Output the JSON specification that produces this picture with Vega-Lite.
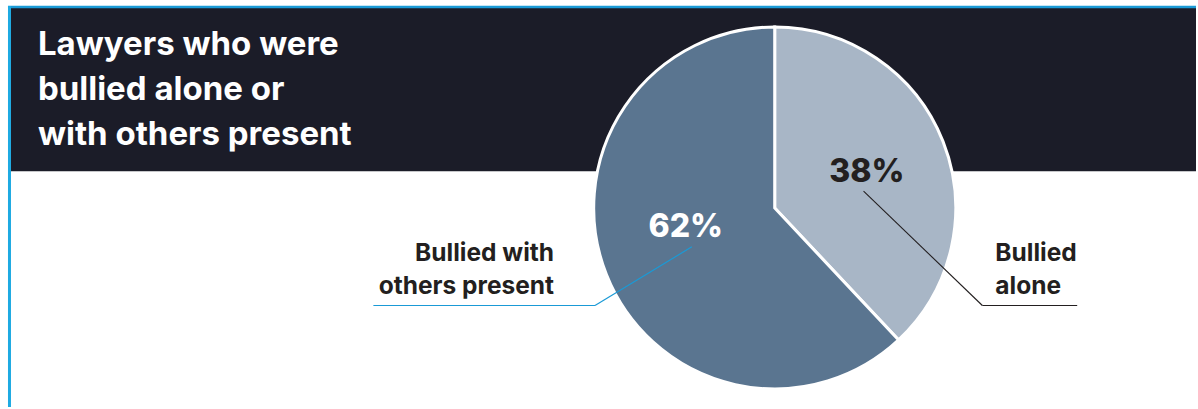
{
  "$schema": "https://vega.github.io/schema/vega-lite/v6.json",
  "width": 1198,
  "height": 409,
  "autosize": {"type": "fit", "contains": "padding"},
  "padding": 0,
  "background": "white",
  "config": {"view": {"stroke": null}},
  "datasets": {
    "pie": [
      {"category": "Bullied alone", "share": 0.38, "label": "Bullied\nalone", "order": 1},
      {"category": "Bullied with others present", "share": 0.62, "label": "Bullied with\nothers present", "order": 2}
    ],
    "blank": [{}]
  },
  "layer": [
    {
      "data": {"name": "blank"},
      "mark": {"type": "rect", "color": "#1b1c28"},
      "encoding": {
        "x": {"datum": -422.65, "type": "quantitative", "scale": {"domain": [-428.73, 233.15], "nice": false, "zero": false}, "axis": null},
        "x2": {"datum": 233.15},
        "y": {"datum": 111.05, "type": "quantitative", "scale": {"domain": [-110.5, 115.47], "nice": false, "zero": false}, "axis": null},
        "y2": {"datum": 20.44}
      }
    },
    {
      "data": {"name": "blank"},
      "mark": {"type": "rule", "color": "#1a9ad6", "strokeWidth": 2.5},
      "encoding": {
        "x": {"datum": -424.31, "type": "quantitative"},
        "x2": {"datum": 233.15},
        "y": {"datum": 111.6, "type": "quantitative"},
        "y2": {"datum": 111.6}
      }
    },
    {
      "data": {"name": "blank"},
      "mark": {"type": "rule", "color": "#1eaae2", "strokeWidth": 3},
      "encoding": {
        "x": {"datum": -423.48, "type": "quantitative"},
        "x2": {"datum": -423.48},
        "y": {"datum": 112.15, "type": "quantitative"},
        "y2": {"datum": -110.5}
      }
    },
    {
      "data": {"name": "blank"},
      "mark": {"type": "text", "color": "white", "font": "Inter", "fontWeight": "bold", "fontSize": 33, "align": "left", "baseline": "alphabetic", "lineHeight": 45},
      "encoding": {
        "x": {"datum": -407.73, "type": "quantitative"},
        "y": {"datum": 85.08, "type": "quantitative"},
        "text": {"value": ["Lawyers who were", "bullied alone or", "with others present"]}
      }
    },
    {
      "data": {"name": "pie"},
      "encoding": {
        "theta": {"field": "share", "type": "quantitative", "stack": true},
        "order": {"field": "order", "type": "quantitative"},
        "x": {"datum": 0, "type": "quantitative"},
        "y": {"datum": 0, "type": "quantitative"}
      },
      "layer": [
        {
          "mark": {"type": "arc", "radius": 181, "stroke": "white", "strokeWidth": 3},
          "encoding": {
            "color": {"field": "category", "type": "nominal", "legend": null,
              "scale": {"domain": ["Bullied alone", "Bullied with others present"], "range": ["#a8b6c6", "#5a7590"]}}
          }
        },
        {
          "mark": {"type": "text", "radius": 99, "font": "Inter", "fontWeight": 800, "fontSize": 32, "color": "#231f20", "align": "center", "baseline": "middle"},
          "encoding": {
            "text": {"condition": {"test": "datum.category === 'Bullied alone'", "field": "share", "type": "quantitative", "format": ".0%"}, "value": ""}
          }
        },
        {
          "mark": {"type": "text", "radius": 91, "thetaOffset": 0.166, "font": "Inter", "fontWeight": 800, "fontSize": 32, "color": "white", "align": "center", "baseline": "middle"},
          "encoding": {
            "text": {"condition": {"test": "datum.category !== 'Bullied alone'", "field": "share", "type": "quantitative", "format": ".0%"}, "value": ""}
          }
        }
      ]
    },
    {
      "data": {"name": "blank"},
      "mark": {"type": "rule", "color": "#1a9ad6", "strokeWidth": 1.2},
      "encoding": {
        "x": {"datum": -222.1, "type": "quantitative"},
        "x2": {"datum": -99.45},
        "y": {"datum": -54.14, "type": "quantitative"},
        "y2": {"datum": -54.14}
      }
    },
    {
      "data": {"name": "blank"},
      "mark": {"type": "rule", "color": "#1a9ad6", "strokeWidth": 1.2},
      "encoding": {
        "x": {"datum": -99.45, "type": "quantitative"},
        "x2": {"datum": -45.86},
        "y": {"datum": -54.14, "type": "quantitative"},
        "y2": {"datum": -21.55}
      }
    },
    {
      "data": {"name": "blank"},
      "mark": {"type": "rule", "color": "#231f20", "strokeWidth": 1.1},
      "encoding": {
        "x": {"datum": 49.17, "type": "quantitative"},
        "x2": {"datum": 114.92},
        "y": {"datum": 9.39, "type": "quantitative"},
        "y2": {"datum": -54.14}
      }
    },
    {
      "data": {"name": "blank"},
      "mark": {"type": "rule", "color": "#231f20", "strokeWidth": 1.1},
      "encoding": {
        "x": {"datum": 114.92, "type": "quantitative"},
        "x2": {"datum": 167.4},
        "y": {"datum": -54.14, "type": "quantitative"},
        "y2": {"datum": -54.14}
      }
    },
    {
      "data": {"name": "pie"},
      "transform": [{"filter": "datum.category === 'Bullied alone'"}],
      "mark": {"type": "text", "font": "Inter", "fontWeight": "bold", "fontSize": 24.5, "color": "#231f20", "align": "left", "baseline": "alphabetic", "lineHeight": 33, "lineBreak": "\n"},
      "encoding": {
        "x": {"datum": 122.1, "type": "quantitative"},
        "y": {"datum": -29.28, "type": "quantitative"},
        "text": {"field": "label"}
      }
    },
    {
      "data": {"name": "pie"},
      "transform": [{"filter": "datum.category !== 'Bullied alone'"}],
      "mark": {"type": "text", "font": "Inter", "fontWeight": "bold", "fontSize": 24.5, "color": "#231f20", "align": "right", "baseline": "alphabetic", "lineHeight": 33, "lineBreak": "\n"},
      "encoding": {
        "x": {"datum": -122.1, "type": "quantitative"},
        "y": {"datum": -29.28, "type": "quantitative"},
        "text": {"field": "label"}
      }
    }
  ]
}
